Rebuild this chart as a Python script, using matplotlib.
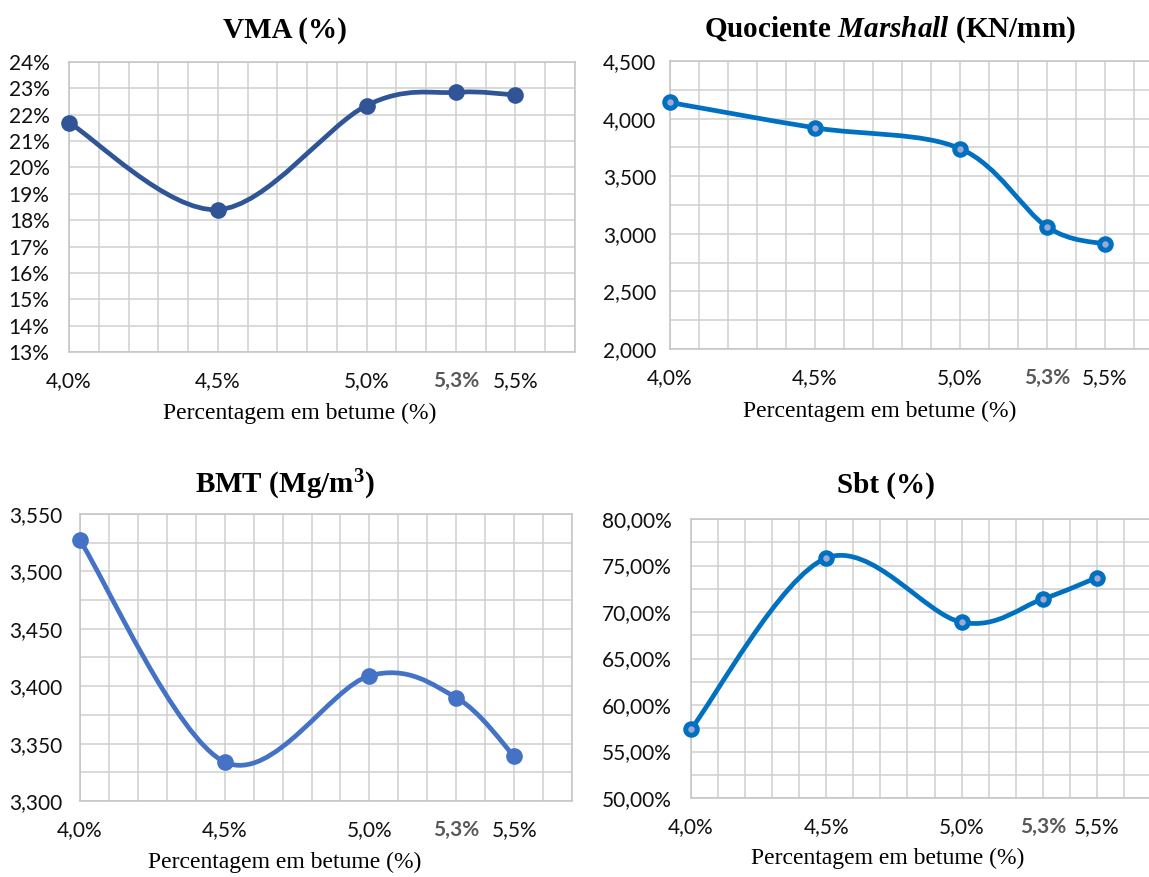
import numpy as np
import matplotlib
matplotlib.use("Agg")
import matplotlib.pyplot as plt
from matplotlib.path import Path
from matplotlib.patches import PathPatch
from matplotlib.ticker import MultipleLocator, FuncFormatter

plt.rcParams['mathtext.fontset'] = 'custom'
plt.rcParams['mathtext.rm'] = 'Liberation Serif:bold'
plt.rcParams['mathtext.bf'] = 'Liberation Serif:bold'
plt.rcParams['mathtext.it'] = 'Liberation Serif:italic:bold'

# ---- data ----
betume = [4.0, 4.5, 5.0, 5.3, 5.5]
betume_labels = ["4,0%", "4,5%", "5,0%", "5,3%", "5,5%"]
vma = [21.7, 18.4, 22.35, 22.85, 22.75]
marshall = [4.14, 3.92, 3.74, 3.06, 2.91]
bmt = [3.527, 3.334, 3.409, 3.390, 3.339]
sbt = [57.4, 75.8, 68.9, 71.4, 73.7]

W, H = 1149, 877
fig = plt.figure(figsize=(W / 100, H / 100), dpi=100)

TICK_FONT = "Lato"
SERIF = "Liberation Serif"


def px_axes(left, right, top, bottom):
    return fig.add_axes([left / W, 1 - bottom / H, (right - left) / W, (bottom - top) / H])


def smooth_path(xs, ys):
    pts = np.column_stack([xs, ys]).astype(float)
    n = len(pts)
    verts = [pts[0]]
    codes = [Path.MOVETO]
    for i in range(n - 1):
        p0 = pts[i - 1] if i > 0 else pts[i]
        p1 = pts[i]
        p2 = pts[i + 1]
        p3 = pts[i + 2] if i + 2 < n else pts[i + 1]
        c1 = p1 + (p2 - p0) / 6.0
        c2 = p2 - (p3 - p1) / 6.0
        verts += [c1, c2, p2]
        codes += [Path.CURVE4] * 3
    return Path(verts, codes)


def setup(ax, ylim, ymajor, yminor, fmt, ypad, color, values, ring):
    ax.set_xlim(4.0, 5.7)
    ax.set_ylim(*ylim)
    ax.set_xticks(betume)
    ax.set_xticklabels(betume_labels)
    ax.xaxis.set_minor_locator(MultipleLocator(0.1))
    ax.yaxis.set_major_locator(MultipleLocator(ymajor))
    ax.yaxis.set_minor_locator(MultipleLocator(yminor))
    ax.yaxis.set_major_formatter(FuncFormatter(fmt))
    ax.grid(True, which='both', color='#CFCFCF', lw=1.1)
    ax.set_axisbelow(True)
    for s in ax.spines.values():
        s.set_color('#C4C4C4')
        s.set_linewidth(1.1)
    ax.tick_params(axis='both', which='both', length=0)
    ax.tick_params(axis='x', pad=25)
    ax.tick_params(axis='y', pad=ypad)
    for lab in ax.get_xticklabels() + ax.get_yticklabels():
        lab.set_fontfamily(TICK_FONT)
        lab.set_fontsize(15)
        lab.set_color('#111111')
    for lab in ax.get_xticklabels():
        lab.set_verticalalignment('baseline')
    bl = ax.get_xticklabels()[3]
    bl.set_fontweight('bold')
    bl.set_color('#595959')

    ax.add_patch(PathPatch(smooth_path(betume, values), fill=False, edgecolor=color,
                           lw=3.4, capstyle='round', joinstyle='round', zorder=3,
                           clip_on=False))
    if ring:
        ax.plot(betume, values, ls='none', marker='o', ms=8.3, mew=3.6,
                mec=color, mfc='#9FA8D0', zorder=4, clip_on=False)
    else:
        ax.plot(betume, values, ls='none', marker='o', ms=12, mew=0,
                mfc=color, zorder=4, clip_on=False)


def dec(v, nd):
    return ("{:.%df}" % nd).format(v).replace('.', ',')


# Panel 1: VMA
ax1 = px_axes(69, 575, 62, 352)
setup(ax1, (13, 24), 1, 1, lambda v, p: "%d%%" % round(v), 14, '#2F5597', vma, False)
fig.text(285 / W, 1 - 30 / H, "VMA (%)", ha='center', va='center',
         fontfamily=SERIF, fontweight='bold', fontsize=21)
fig.text(300 / W, 1 - 413 / H, "Percentagem em betume (%)", ha='center', va='center',
         fontfamily=SERIF, fontsize=17)

# Panel 2: Quociente Marshall
ax2 = px_axes(670, 1163, 61, 349)
setup(ax2, (2.0, 4.5), 0.5, 0.25, lambda v, p: dec(v, 3), 10, '#0070C0', marshall, True)
fig.text(890 / W, 1 - 30 / H, r"$\mathrm{Quociente}\ \mathit{Marshall}\ \mathrm{(KN/mm)}$",
         ha='center', va='center', fontsize=21)
fig.text(880 / W, 1 - 411 / H, "Percentagem em betume (%)", ha='center', va='center',
         fontfamily=SERIF, fontsize=17)

# Panel 3: BMT
ax3 = px_axes(80, 572, 514, 801)
setup(ax3, (3.30, 3.55), 0.05, 0.025, lambda v, p: dec(v, 3), 13, '#4472C4', bmt, False)
fig.text(285 / W, 1 - 485 / H, r"$\mathrm{BMT\ (Mg/m^{3})}$", ha='center', va='center',
         fontsize=21)
fig.text(285 / W, 1 - 862 / H, "Percentagem em betume (%)", ha='center', va='center',
         fontfamily=SERIF, fontsize=17)

# Panel 4: Sbt
ax4 = px_axes(691, 1151, 519, 798)
setup(ax4, (50, 80), 5, 2.5, lambda v, p: dec(v, 2) + "%", 14, '#0070C0', sbt, True)
fig.text(886 / W, 1 - 485 / H, "Sbt (%)", ha='center', va='center',
         fontfamily=SERIF, fontweight='bold', fontsize=21)
fig.text(888 / W, 1 - 858 / H, "Percentagem em betume (%)", ha='center', va='center',
         fontfamily=SERIF, fontsize=17)

fig.savefig("out.png", dpi=100, facecolor='white')
